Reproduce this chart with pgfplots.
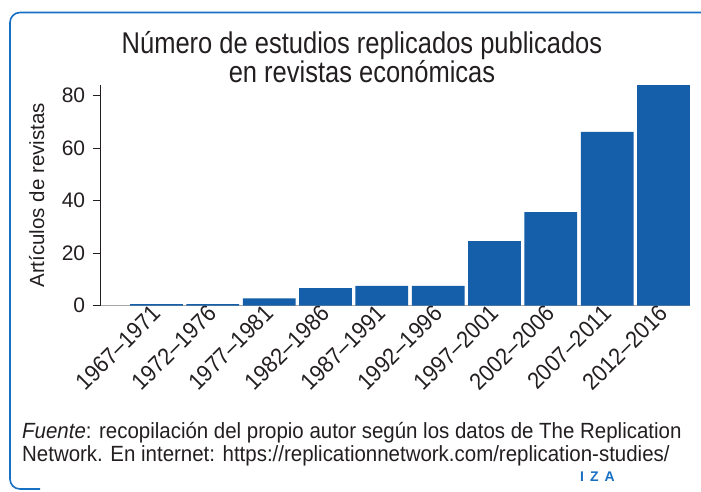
\documentclass[border=0pt]{standalone}
\usepackage{fontspec}
\setmainfont{Liberation Sans}
\newfontfamily\narrow[FakeStretch=0.85,Ligatures=TeX]{Liberation Sans}
\newfontfamily\footfont[FakeStretch=0.93,Ligatures=TeX]{Liberation Sans}
\newfontfamily\tickfont[FakeStretch=0.92,Ligatures=TeX]{Liberation Sans}
\usepackage{pgfplots}
\pgfplotsset{compat=1.18}
\definecolor{barblue}{RGB}{20,94,170}
\definecolor{frameblue}{RGB}{24,112,196}
\definecolor{txt}{RGB}{35,31,32}
\begin{document}
\begin{tikzpicture}[x=1pt,y=1pt]
\useasboundingbox (0,0) rectangle (701,491);
\draw[frameblue, line width=1.6pt, rounded corners=10pt] (703,478.5) -- (10,478.5) -- (10,2) -- (40,2);
\node[txt, font=\narrow\fontsize{30}{29}\selectfont, align=center] at (362,434) {Número de estudios replicados publicados\\en revistas económicas};
\begin{axis}[
  at={(100.7pt,185.3pt)}, anchor=south west,
  scale only axis, width=589.3pt, height=220.7pt,
  xmin=-0.99, xmax=9.47, ymin=0, ymax=84.1,
  axis x line*=bottom, axis y line*=left,
  x axis line style={gray!70, line width=1pt, -},
  y axis line style={txt, line width=0.8pt, -},
  ybar, bar width=0.936, bar shift=0pt,
  xtick=data,
  xticklabels={1967–1971,1972–1976,1977–1981,1982–1986,1987–1991,1992–1996,1997–2001,2002–2006,2007–2011,2012–2016},
  x tick style={draw=none},
  xticklabel style={xshift=-6pt, yshift=13pt, rotate=45, anchor=north east, font=\tickfont\fontsize{23.5}{23.5}\selectfont, text=txt, inner sep=2pt},
  ytick={0,20,40,60,80},
  y tick style={txt, line width=0.8pt},
  tick align=outside, major tick length=8pt,
  /pgf/number format/assume math mode=true,
  yticklabel style={xshift=-4pt, font=\fontsize{21}{21}\selectfont, text=txt},
  ylabel={Artículos de revistas},
  every axis y label/.style={at={(axis description cs:-0.1086,0.5)}, rotate=90, anchor=center, font=\fontsize{20.5}{20.5}\selectfont, text=txt},
  clip=false,
]
\addplot[fill=barblue, draw=none] coordinates {
(0,0.6) (1,0.6) (2,2.8) (3,6.7) (4,7.6) (5,7.6) (6,24.6) (7,35.7) (8,66.2) (9,84.1)
};
\end{axis}
\node[txt, anchor=base west, font=\footfont\fontsize{22}{23}\selectfont, align=left, inner sep=0pt] at (22,30) {\textit{Fuente}: recopilación del propio autor según los datos de The Replication\\Network. En internet: https://replicationnetwork.com/replication-studies/};
\node[frameblue, anchor=base west, font=\bfseries\fontsize{14}{14}\selectfont, inner sep=0pt] at (580,10) {I\hspace{6pt}Z\hspace{6pt}A};
\end{tikzpicture}
\end{document}
